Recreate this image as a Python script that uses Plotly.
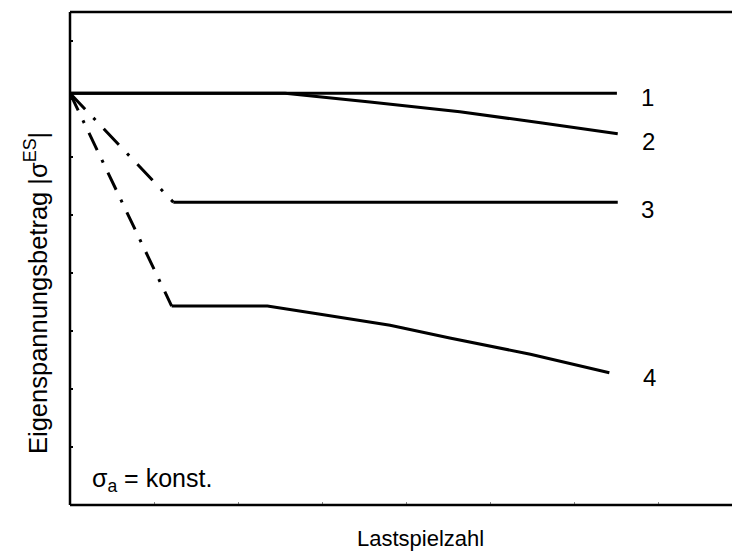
import plotly.graph_objects as go

# Load cycles (arbitrary units) and residual stress magnitude (arbitrary units)
start_y = 7.10

# Curve 1: stable residual stress
c1_x = [0.0, 6.51]
c1_y = [start_y, start_y]

# Curve 2: stable at first, then slow relaxation
c2_x = [0.0, 2.56, 3.57, 4.64, 5.60, 6.52]
c2_y = [start_y, 7.10, 6.95, 6.78, 6.59, 6.40]

# Curve 3: quasi-static drop (first cycle), then stable
c3_drop_x = [0.0, 1.23]
c3_drop_y = [start_y, 5.22]
c3_x = [1.23, 6.52]
c3_y = [5.22, 5.22]

# Curve 4: quasi-static drop, then cyclic relaxation
c4_drop_x = [0.0, 1.21]
c4_drop_y = [start_y, 3.43]
c4_x = [1.21, 2.35, 2.98, 3.81, 4.52, 5.48, 6.42]
c4_y = [3.43, 3.43, 3.29, 3.10, 2.88, 2.60, 2.28]

curve_labels = ["1", "2", "3", "4"]
label_x = [6.88, 6.89, 6.87, 6.90]
label_y = [7.03, 6.27, 5.10, 2.20]

FONT = "Liberation Sans, Arial, sans-serif"
BLACK = "#000000"

fig = go.Figure()

def add_line(x, y, dash="solid"):
    fig.add_trace(go.Scatter(
        x=x, y=y, mode="lines",
        line=dict(color=BLACK, width=3, dash=dash),
        hoverinfo="skip", showlegend=False,
    ))

add_line(c3_drop_x, c3_drop_y, dash="22px,12px,3px,12px")
add_line(c4_drop_x, c4_drop_y, dash="19px,11px,3px,11px")
add_line(c1_x, c1_y)
add_line(c2_x, c2_y)
add_line(c3_x, c3_y)
add_line(c4_x, c4_y)

for txt, lx, ly in zip(curve_labels, label_x, label_y):
    fig.add_annotation(x=lx, y=ly, text=txt, showarrow=False,
                       xanchor="center", yanchor="middle",
                       font=dict(family=FONT, size=24, color=BLACK))

# Axis titles and load note
fig.add_annotation(xref="paper", yref="paper", x=0.529, y=0, yshift=-33,
                   text="Lastspielzahl", showarrow=False,
                   xanchor="center", yanchor="middle",
                   font=dict(family=FONT, size=22, color=BLACK))
fig.add_annotation(xref="paper", yref="paper", x=0, xshift=-34, y=0.43,
                   text="Eigenspannungsbetrag |σ<sup>ES</sup>|", textangle=-90,
                   showarrow=False, xanchor="center", yanchor="middle",
                   font=dict(family=FONT, size=25.5, color=BLACK))
fig.add_annotation(xref="paper", yref="paper", x=0.03, y=0.05,
                   text="σ<sub>a</sub> = konst.", showarrow=False,
                   xanchor="left", yanchor="middle",
                   font=dict(family=FONT, size=25, color=BLACK))

# Frame: left, bottom and top edges only
frame = [
    dict(x0=0, x1=0, y0=0, y1=1),
    dict(x0=0, x1=1.01, y0=0, y1=0),
    dict(x0=0, x1=1.01, y0=1, y1=1),
]
for f in frame:
    fig.add_shape(type="line", xref="paper", yref="paper",
                  line=dict(color=BLACK, width=2.5), **f)

fig.update_layout(
    width=740, height=551,
    margin=dict(l=70, r=8, t=12, b=46),
    paper_bgcolor="white", plot_bgcolor="white",
    xaxis=dict(range=[0, 7.88], dtick=1, tick0=0, showgrid=False, zeroline=False,
               showline=False,
               ticks="inside", ticklen=3, tickcolor="#888888", tickwidth=1,
               showticklabels=False),
    yaxis=dict(range=[0, 8.5], dtick=1, tick0=0, showgrid=False, zeroline=False,
               showline=False,
               ticks="inside", ticklen=3, tickcolor=BLACK, tickwidth=1.5,
               showticklabels=False),
)

fig.write_html("out.html")
